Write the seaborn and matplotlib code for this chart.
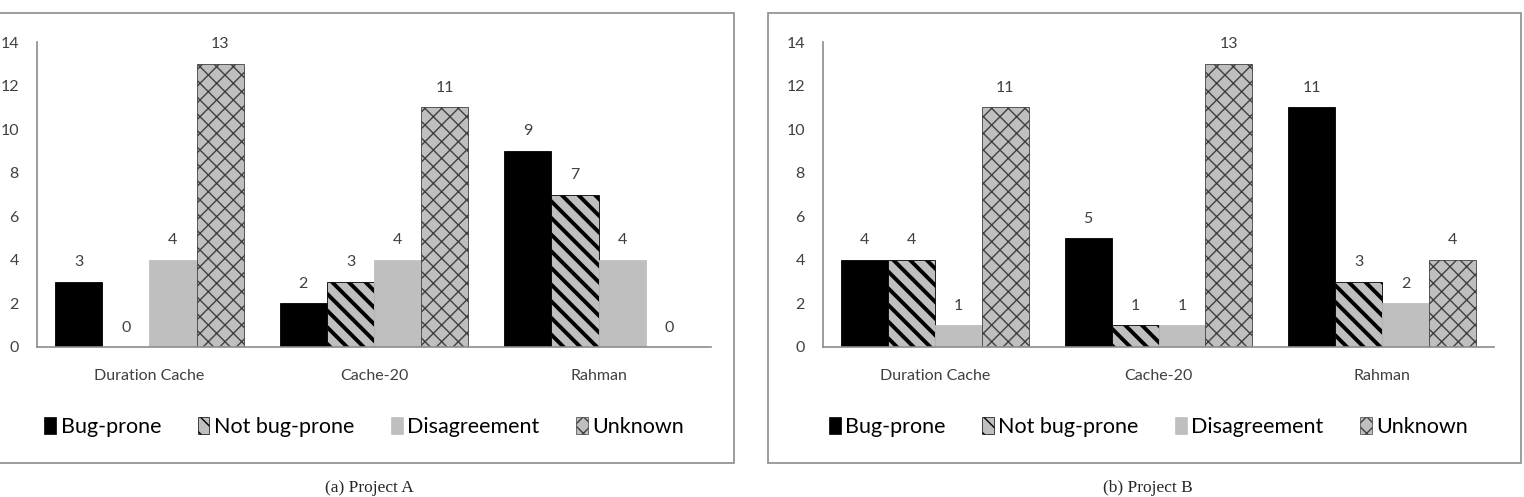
import numpy as np
import pandas as pd
from matplotlib import pyplot as plt
from matplotlib.patches import Patch, Rectangle
import seaborn as sns

# data
categories = ['Duration Cache', 'Cache-20', 'Rahman']
labels = ['Bug-prone', 'Not bug-prone', 'Disagreement', 'Unknown']
project_a = {
    'Bug-prone': [3, 2, 9],
    'Not bug-prone': [0, 3, 7],
    'Disagreement': [4, 4, 4],
    'Unknown': [13, 11, 0],
}
project_b = {
    'Bug-prone': [4, 5, 11],
    'Not bug-prone': [4, 1, 3],
    'Disagreement': [1, 1, 2],
    'Unknown': [11, 13, 4],
}
captions = ['(a) Project A', '(b) Project B']

sns.set_style('white')
plt.rcParams['font.family'] = ['Lato', 'DejaVu Sans']

fills = {'Bug-prone': '#000000', 'Not bug-prone': '#bfbfbf',
         'Disagreement': '#bfbfbf', 'Unknown': '#bfbfbf'}
hatches = {'Bug-prone': '', 'Not bug-prone': '\\\\', 'Disagreement': '', 'Unknown': 'xx'}
edges = {'Bug-prone': '#000000', 'Not bug-prone': '#000000',
         'Disagreement': '#bfbfbf', 'Unknown': '#404040'}
hlw = {'Bug-prone': 1, 'Not bug-prone': 2.8, 'Disagreement': 1, 'Unknown': 1.0}


def long_df(d):
    rows = []
    for lab in labels:
        for c, v in zip(categories, d[lab]):
            rows.append({'cat': c, 'type': lab, 'val': v})
    return pd.DataFrame(rows)


fig = plt.figure(figsize=(15.24, 4.97), dpi=100)
W, H = 1524, 497

# panel frames (pixels)
frames = [(-1, 13, 734, 463), (768, 13, 1521, 463)]
for x0, y0, x1, y1 in frames:
    fig.add_artist(Rectangle((x0 / W, 1 - y1 / H), (x1 - x0) / W, (y1 - y0) / H,
                             transform=fig.transFigure, fill=False,
                             edgecolor='#8c8c8c', lw=1.2))

axes_px = [(37, 711), (823, 1494)]
for i, (d, (xl, xr)) in enumerate(zip([project_a, project_b], axes_px)):
    ax = fig.add_axes([xl / W, 1 - 347 / H, (xr - xl) / W, (347 - 42) / H])
    df = long_df(d)
    sns.barplot(data=df, x='cat', y='val', hue='type', hue_order=labels,
                order=categories, width=0.84, gap=0, ax=ax, legend=False,
                palette=[fills[l] for l in labels], saturation=1)
    for lab, cont in zip(labels, ax.containers):
        for p in cont:
            p.set_facecolor(fills[lab])
            p.set_edgecolor(edges[lab])
            p.set_hatch(hatches[lab])
            p.set_linewidth(0.6)
            if hasattr(p, 'set_hatch_linewidth'):
                p.set_hatch_linewidth(hlw[lab])
        ax.bar_label(cont, padding=9, fontsize=11.5, color='#404040')
    ax.set_ylim(0, 14)
    ax.set_yticks(range(0, 15, 2))
    ax.set_xlabel('')
    ax.set_ylabel('')
    ax.tick_params(axis='y', length=0, pad=13, labelsize=11.5, labelcolor='#404040')
    ax.tick_params(axis='x', length=0, pad=16, labelsize=11.5, labelcolor='#404040')
    for s in ['top', 'right']:
        ax.spines[s].set_visible(False)
    for s in ['left', 'bottom']:
        ax.spines[s].set_color('#8c8c8c')
        ax.spines[s].set_linewidth(1.2)

    handles = []
    for lab in labels:
        h = Patch(facecolor=fills[lab], edgecolor=edges[lab], hatch=hatches[lab], lw=0.5)
        handles.append(h)
    fig.legend(handles, labels, loc='center', ncol=4, frameon=False,
               bbox_to_anchor=(((xl + xr) / 2 - 10) / W, 1 - 427 / H),
               fontsize=15.5, handlelength=0.55, handleheight=0.8,
               handletextpad=0.2, columnspacing=1.7, labelcolor='#000000')

    fig.text(((frames[i][0] + frames[i][2]) / 2 + 3) / W, 1 - 488 / H, captions[i],
             ha='center', va='center', fontsize=12.5,
             family=['Liberation Serif', 'DejaVu Serif'])

fig.savefig('out.png', dpi=100)
